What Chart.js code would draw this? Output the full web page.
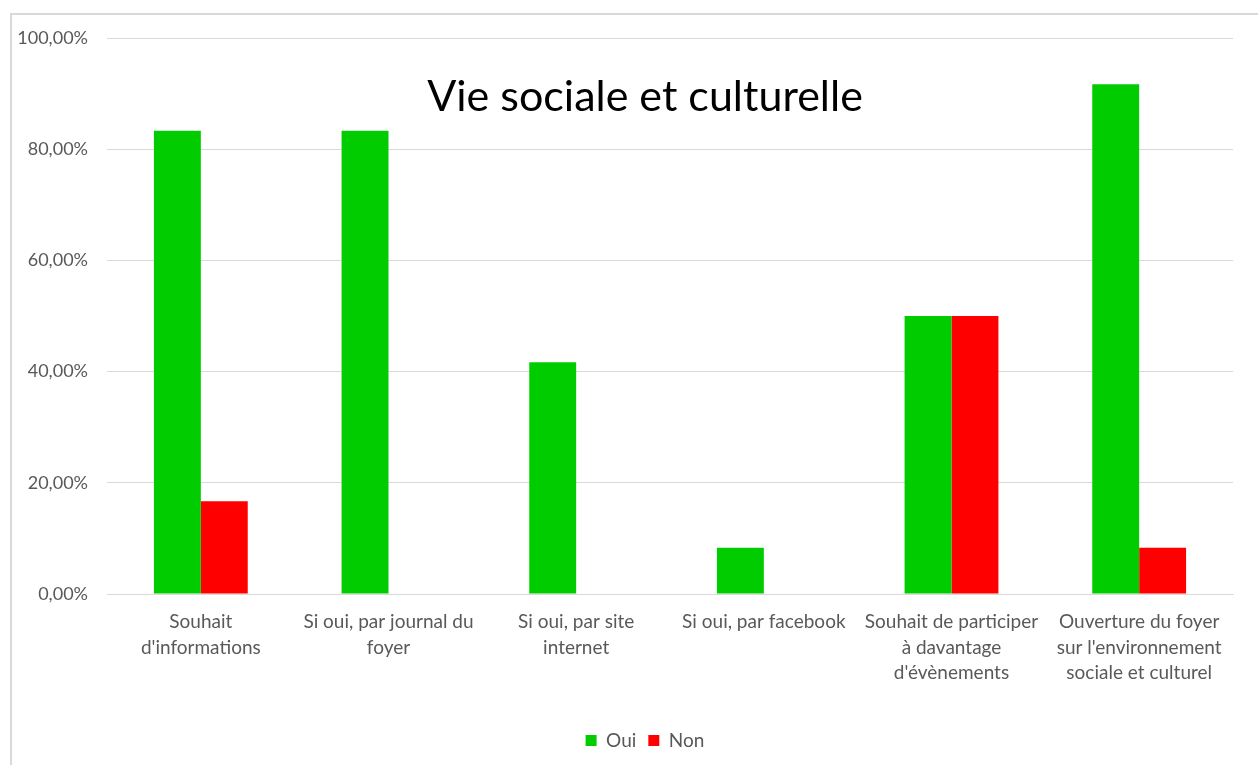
<!DOCTYPE html>
<html>
<head>
<meta charset="utf-8">
<script src="https://cdn.jsdelivr.net/npm/chart.js@4.4.0/dist/chart.umd.min.js"></script>
<style>
  html, body { margin: 0; padding: 0; background: #fff; overflow: hidden; }
  #frame {
    position: absolute; left: 10px; top: 13px;
    width: 1300px; height: 760px;
    border-left: 2px solid #d9d9d9; border-top: 2px solid #d9d9d9;
  }
  #wrap { position: absolute; left: 0; top: 0; width: 1290px; height: 765px; }
</style>
</head>
<body>
<div id="frame"></div>
<div id="wrap"><canvas id="vieChart"></canvas></div>
<script>
// données du graphique
const categories = [
    ['Souhait', "d'informations"],
    ['Si oui, par journal du', 'foyer'],
    ['Si oui, par site', 'internet'],
    ['Si oui, par facebook'],
    ['Souhait de participer', 'à davantage', "d'évènements"],
    ['Ouverture du foyer', "sur l'environnement", 'sociale et culturel']
];
const ouiValues = [83.33, 83.33, 41.67, 8.33, 50.0, 91.67];
const nonValues = [16.67, 0, 0, 0, 50.0, 8.33];
const yTicks = [0, 20, 40, 60, 80, 100];

const chartTitle = 'Vie sociale et culturelle';
const grey = '#595959';

// titre dessiné par-dessus la zone du graphique (comme dans Excel)
const overlayTitle = {
    id: 'overlayTitle',
    afterDraw(chart) {
        const { ctx, chartArea } = chart;
        ctx.save();
        ctx.font = '43px Lato';
        ctx.fillStyle = '#000';
        ctx.textAlign = 'center';
        ctx.textBaseline = 'middle';
        ctx.fillText(chartTitle, (chartArea.left + chartArea.right) / 2 - 25, chartArea.top + 59);
        ctx.restore();
    }
};

const canvas = document.getElementById('vieChart');
new Chart(canvas.getContext('2d'), {
    type: 'bar',
    data: {
        labels: categories,
        datasets: [
            { label: 'Oui', data: ouiValues, backgroundColor: '#00CC00' },
            { label: 'Non', data: nonValues, backgroundColor: '#FF0000' }
        ]
    },
    options: {
        responsive: true,
        maintainAspectRatio: false,
        animation: false,
        layout: { padding: { left: 0, right: 0, top: 38, bottom: 5 } },
        datasets: { bar: { categoryPercentage: 0.5, barPercentage: 1.0 } },
        scales: {
            x: {
                grid: { display: false },
                border: { display: true, color: '#d9d9d9', width: 1 },
                ticks: {
                    color: grey,
                    font: { family: 'Lato', size: 19, lineHeight: 1.35 },
                    padding: 7,
                    maxRotation: 0,
                    autoSkip: false
                },
                afterFit(scale) { scale.height = 125; }
            },
            y: {
                min: 0,
                max: 100,
                afterBuildTicks(scale) { scale.ticks = yTicks.map(v => ({ value: v })); },
                grid: { color: '#d9d9d9', drawTicks: false },
                border: { display: false },
                ticks: {
                    color: grey,
                    font: { family: 'Lato', size: 18 },
                    padding: 19,
                    callback: v => v.toFixed(2).replace('.', ',') + '%'
                },
                afterFit(scale) { scale.width = 107; }
            },
            // axe vide à droite : réserve la marge sans décentrer la légende
            yRight: {
                position: 'right',
                grid: { display: false },
                border: { display: false },
                ticks: { display: false },
                afterFit(scale) { scale.width = 57; }
            }
        },
        plugins: {
            title: { display: false },
            tooltip: { enabled: false },
            legend: {
                position: 'bottom',
                labels: {
                    color: grey,
                    font: { family: 'Lato', size: 19 },
                    boxWidth: 11,
                    boxHeight: 11,
                    padding: 12
                }
            }
        }
    },
    plugins: [overlayTitle]
});
</script>
</body>
</html>
